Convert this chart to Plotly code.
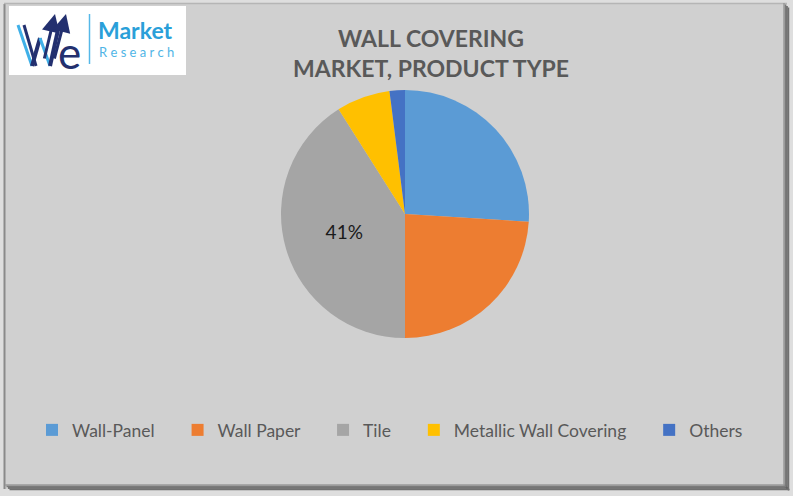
import plotly.graph_objects as go

# ---- data ----
categories = ["Wall-Panel", "Wall Paper", "Tile", "Metallic Wall Covering", "Others"]
shares = [26, 24, 41, 7, 2]
slice_colors = ["#5B9BD5", "#ED7D31", "#A5A5A5", "#FFC000", "#4472C4"]
shown_labels = ["", "", "%{percent:.0%}", "", ""]
title_lines = ["WALL COVERING", "MARKET, PRODUCT TYPE"]

W, H = 793, 496
BG = "#d0d0d0"
PAD = "\u00a0" * 4  # extra spacing between legend entries

def px(x):
    return x / W

def py(y):
    return 1 - y / H

legend_labels = [c + PAD for c in categories]

fig = go.Figure()
fig.add_trace(go.Pie(
    labels=legend_labels,
    values=shares,
    customdata=categories,
    sort=False,
    direction="clockwise",
    rotation=0,
    marker=dict(colors=slice_colors, line=dict(width=0)),
    texttemplate=shown_labels,
    textposition="inside",
    insidetextorientation="horizontal",
    insidetextfont=dict(family="Lato, Carlito, sans-serif", size=19, color="#1a1a1a"),
    hovertemplate="%{customdata}: %{percent}<extra></extra>",
    domain=dict(x=[px(405 - 124), px(405 + 124)], y=[py(214 + 124), py(214 - 124)]),
    showlegend=True,
))

shapes = []
# frame
shapes.append(dict(type="rect", xref="paper", yref="paper", x0=0, y0=0, x1=1, y1=1,
                   line=dict(width=0), fillcolor="#dedede", layer="below"))
shapes.append(dict(type="rect", xref="paper", yref="paper", x0=px(4), y0=py(489), x1=px(787), y1=py(4),
                   line=dict(width=0), fillcolor=BG, layer="below"))
shapes.append(dict(type="line", xref="paper", yref="paper", x0=px(4.5), y0=py(4), x1=px(4.5), y1=py(489),
                   line=dict(color="#8a8a8a", width=2)))
shapes.append(dict(type="line", xref="paper", yref="paper", x0=px(4), y0=py(3.5), x1=px(787), y1=py(3.5),
                   line=dict(color="#b5b5b5", width=1.5)))
for off, col in [(0, "#9a9a9a"), (1.5, "#7a7a7a"), (3, "#5e5e5e"), (4.5, "#707070")]:
    shapes.append(dict(type="line", xref="paper", yref="paper", x0=px(784 + off), y0=py(3 + off), x1=px(784 + off), y1=py(486 + off),
                       line=dict(color=col, width=1.5)))
    shapes.append(dict(type="line", xref="paper", yref="paper", x0=px(5 + off), y0=py(485 + off), x1=px(785 + off), y1=py(485 + off),
                       line=dict(color=col, width=1.5)))
# logo box
shapes.append(dict(type="rect", xref="paper", yref="paper", x0=px(9), y0=py(75), x1=px(186), y1=py(6),
                   line=dict(width=0), fillcolor="white"))
shapes.append(dict(type="line", xref="paper", yref="paper", x0=px(89.5), y0=py(14), x1=px(89.5), y1=py(64),
                   line=dict(color="#56b8e8", width=1.5)))
# "W" strokes
for (x0, y0, x1, y1, c, w) in [
    (18, 25, 32, 66, "#3fb0e8", 3), (32, 66, 40, 38, "#23306f", 4), (40, 38, 50, 66, "#3fb0e8", 3),
    (50, 66, 58, 30, "#23306f", 4), (24, 25, 36, 66, "#23306f", 3)]:
    shapes.append(dict(type="line", xref="paper", yref="paper", x0=px(x0), y0=py(y0), x1=px(x1), y1=py(y1),
                       line=dict(color=c, width=w)))

annotations = []
annotations.append(dict(text="<br>".join(title_lines), x=px(431), y=py(53), xref="paper", yref="paper",
                        showarrow=False, xanchor="center", yanchor="middle",
                        font=dict(family="Lato, sans-serif", size=23, color="#595959", weight="bold"),
                        align="center"))
# logo arrows
for (xa, ya, xt, yt) in [(44, 60, 55, 14), (54, 60, 66, 14)]:
    annotations.append(dict(x=px(xt), y=py(yt), ax=xa - xt, ay=ya - yt, xref="paper", yref="paper",
                            axref="pixel", ayref="pixel", showarrow=True, arrowhead=2, arrowsize=1.2,
                            arrowwidth=3, arrowcolor="#23306f", text=""))
annotations.append(dict(text="e", x=px(69), y=py(52), xref="paper", yref="paper", showarrow=False,
                        font=dict(family="Lato, sans-serif", size=44, color="#23306f"), xanchor="center", yanchor="middle"))
annotations.append(dict(text="Market", x=px(96), y=py(30), xref="paper", yref="paper", showarrow=False,
                        font=dict(family="Lato, sans-serif", size=23, color="#2a9fd9", weight="bold"),
                        xanchor="left", yanchor="middle"))
annotations.append(dict(text="R e s e a r c h", x=px(97), y=py(52), xref="paper", yref="paper", showarrow=False,
                        font=dict(family="Lato, sans-serif", size=13, color="#4fb5e6"),
                        xanchor="left", yanchor="middle"))

fig.update_layout(
    width=W, height=H,
    margin=dict(l=0, r=0, t=0, b=0),
    paper_bgcolor=BG,
    plot_bgcolor=BG,
    shapes=shapes,
    annotations=annotations,
    legend=dict(orientation="h", x=px(32), xanchor="left", y=py(430), yanchor="middle",
                font=dict(family="Lato, sans-serif", size=17.5, color="#595959"),
                bgcolor="rgba(0,0,0,0)", itemclick=False, traceorder="normal"),
)

fig.write_html("out.html", config={"displayModeBar": False},
               post_script="document.body.style.margin='0';document.body.style.overflow='hidden';")
